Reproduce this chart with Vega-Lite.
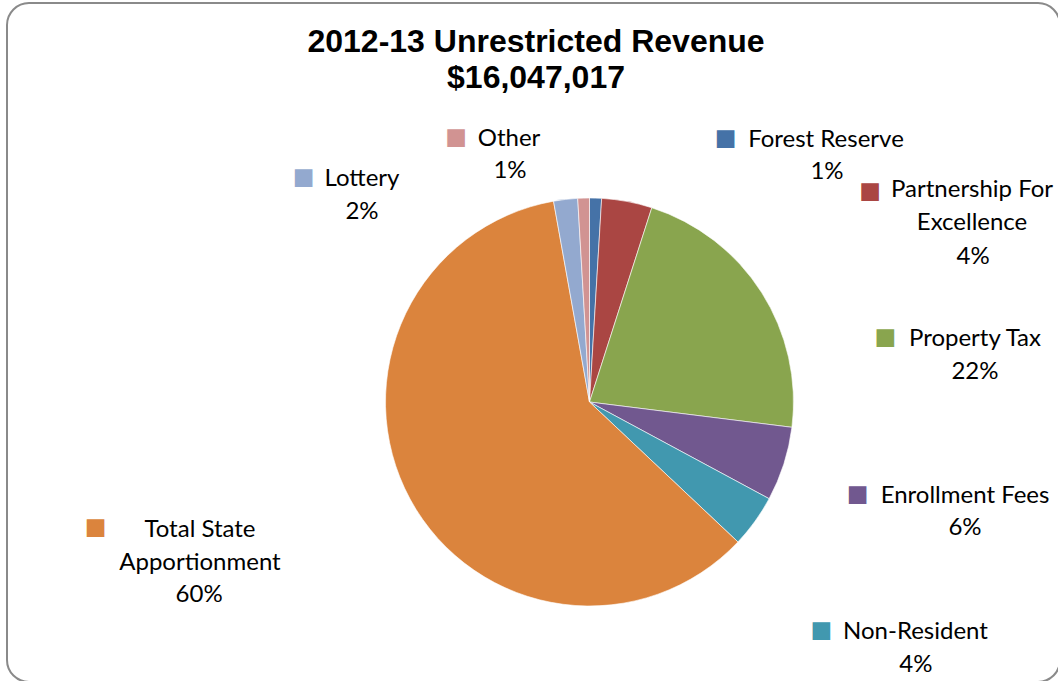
{
  "$schema": "https://vega.github.io/schema/vega-lite/v6.json",
  "width": 1053,
  "height": 679,
  "autosize": {"type": "none"},
  "padding": {"left": 7, "top": 3, "right": 0, "bottom": 0},
  "background": "white",
  "view": {"stroke": "#8a8a8a", "strokeWidth": 2, "cornerRadius": 22},
  "config": {"style": {"view": {"stroke": "#8a8a8a", "strokeWidth": 2, "cornerRadius": 22}}},
  "title": {
    "text": ["2012-13 Unrestricted Revenue", "$16,047,017"],
    "font": "Liberation Sans",
    "fontSize": 32,
    "fontWeight": "bold",
    "color": "#000000",
    "lineHeight": 36,
    "anchor": "middle",
    "frame": "group",
    "baseline": "alphabetic",
    "offset": -50,
    "dy": 67,
    "dx": 2.5
  },
  "data": {
    "values": [
      {"slice": 1, "category": "Forest Reserve", "share": 0.0095},
      {"slice": 2, "category": "Partnership For Excellence", "share": 0.0399},
      {"slice": 3, "category": "Property Tax", "share": 0.2204},
      {"slice": 4, "category": "Enrollment Fees", "share": 0.0588},
      {"slice": 5, "category": "Non-Resident", "share": 0.0417},
      {"slice": 6, "category": "Total State Apportionment", "share": 0.6015},
      {"slice": 7, "category": "Lottery", "share": 0.0190},
      {"slice": 8, "category": "Other", "share": 0.0092}
    ]
  },
  "encoding": {
    "theta": {"field": "share", "type": "quantitative", "stack": true},
    "order": {"field": "slice", "type": "quantitative"},
    "color": {"field": "category", "type": "nominal", "legend": null,
      "scale": {"domain": ["Forest Reserve", "Partnership For Excellence", "Property Tax", "Enrollment Fees", "Non-Resident", "Total State Apportionment", "Lottery", "Other"],
                "range": ["#4572A7", "#AA4643", "#89A54E", "#71588F", "#4198AF", "#DB843D", "#93A9CF", "#D19392"]}}
  },
  "layer": [
    {
      "mark": {"type": "arc", "x": 582.5, "y": 399, "radius": 204, "stroke": "#ffffff", "strokeWidth": 0.6}
    },
    {
      "mark": {"type": "text", "x": 582.5, "y": 399, "radius": 204, "dx": -74.6, "dy": -52.1, "font": "Lato", "fontSize": 24, "fill": "#000000", "align": "center", "baseline": "alphabetic"},
      "encoding": {"text": {"condition": {"test": "datum.category === 'Other'", "field": "category"}, "value": ""}, "color": null}
    },
    {
      "mark": {"type": "text", "x": 582.5, "y": 399, "radius": 204, "dx": -73.6, "dy": -19.6, "font": "Lato", "fontSize": 24, "fill": "#000000", "align": "center", "baseline": "alphabetic"},
      "encoding": {"text": {"condition": {"test": "datum.category === 'Other'", "field": "share", "type": "quantitative", "format": ".0%"}, "value": ""}, "color": null}
    },
    {
      "mark": {"type": "text", "x": 582.5, "y": 399, "radius": 204, "dx": -203.6, "dy": -13.4, "font": "Lato", "fontSize": 24, "fill": "#000000", "align": "center", "baseline": "alphabetic"},
      "encoding": {"text": {"condition": {"test": "datum.category === 'Lottery'", "field": "category"}, "value": ""}, "color": null}
    },
    {
      "mark": {"type": "text", "x": 582.5, "y": 399, "radius": 204, "dx": -203.6, "dy": 19.6, "font": "Lato", "fontSize": 24, "fill": "#000000", "align": "center", "baseline": "alphabetic"},
      "encoding": {"text": {"condition": {"test": "datum.category === 'Lottery'", "field": "share", "type": "quantitative", "format": ".0%"}, "value": ""}, "color": null}
    },
    {
      "mark": {"type": "text", "x": 582.5, "y": 399, "radius": 204, "dx": 230.4, "dy": -51.1, "font": "Lato", "fontSize": 24, "fill": "#000000", "align": "center", "baseline": "alphabetic"},
      "encoding": {"text": {"condition": {"test": "datum.category === 'Forest Reserve'", "field": "category"}, "value": ""}, "color": null}
    },
    {
      "mark": {"type": "text", "x": 582.5, "y": 399, "radius": 204, "dx": 231.4, "dy": -18.6, "font": "Lato", "fontSize": 24, "fill": "#000000", "align": "center", "baseline": "alphabetic"},
      "encoding": {"text": {"condition": {"test": "datum.category === 'Forest Reserve'", "field": "share", "type": "quantitative", "format": ".0%"}, "value": ""}, "color": null}
    },
    {
      "mark": {"type": "text", "x": 582.5, "y": 399, "radius": 204, "dx": 345, "dy": -4.5, "font": "Lato", "fontSize": 24, "lineHeight": 33.5, "fill": "#000000", "align": "center", "baseline": "alphabetic"},
      "encoding": {"text": {"condition": {"test": "datum.category === 'Partnership For Excellence'", "value": ["Partnership For", "Excellence"]}, "value": ""}, "color": null}
    },
    {
      "mark": {"type": "text", "x": 582.5, "y": 399, "radius": 204, "dx": 346, "dy": 62.5, "font": "Lato", "fontSize": 24, "fill": "#000000", "align": "center", "baseline": "alphabetic"},
      "encoding": {"text": {"condition": {"test": "datum.category === 'Partnership For Excellence'", "field": "share", "type": "quantitative", "format": ".0%"}, "value": ""}, "color": null}
    },
    {
      "mark": {"type": "text", "x": 582.5, "y": 399, "radius": 204, "dx": 213.5, "dy": 53.7, "font": "Lato", "fontSize": 24, "fill": "#000000", "align": "center", "baseline": "alphabetic"},
      "encoding": {"text": {"condition": {"test": "datum.category === 'Property Tax'", "field": "category"}, "value": ""}, "color": null}
    },
    {
      "mark": {"type": "text", "x": 582.5, "y": 399, "radius": 204, "dx": 213.5, "dy": 86.7, "font": "Lato", "fontSize": 24, "fill": "#000000", "align": "center", "baseline": "alphabetic"},
      "encoding": {"text": {"condition": {"test": "datum.category === 'Property Tax'", "field": "share", "type": "quantitative", "format": ".0%"}, "value": ""}, "color": null}
    },
    {
      "mark": {"type": "text", "x": 582.5, "y": 399, "radius": 204, "dx": 181.2, "dy": 38.9, "font": "Lato", "fontSize": 24, "fill": "#000000", "align": "center", "baseline": "alphabetic"},
      "encoding": {"text": {"condition": {"test": "datum.category === 'Enrollment Fees'", "field": "category"}, "value": ""}, "color": null}
    },
    {
      "mark": {"type": "text", "x": 582.5, "y": 399, "radius": 204, "dx": 181.2, "dy": 71.2, "font": "Lato", "fontSize": 24, "fill": "#000000", "align": "center", "baseline": "alphabetic"},
      "encoding": {"text": {"condition": {"test": "datum.category === 'Enrollment Fees'", "field": "share", "type": "quantitative", "format": ".0%"}, "value": ""}, "color": null}
    },
    {
      "mark": {"type": "text", "x": 582.5, "y": 399, "radius": 204, "dx": 160.5, "dy": 117.7, "font": "Lato", "fontSize": 24, "fill": "#000000", "align": "center", "baseline": "alphabetic"},
      "encoding": {"text": {"condition": {"test": "datum.category === 'Non-Resident'", "field": "category"}, "value": ""}, "color": null}
    },
    {
      "mark": {"type": "text", "x": 582.5, "y": 399, "radius": 204, "dx": 161, "dy": 150.7, "font": "Lato", "fontSize": 24, "fill": "#000000", "align": "center", "baseline": "alphabetic"},
      "encoding": {"text": {"condition": {"test": "datum.category === 'Non-Resident'", "field": "share", "type": "quantitative", "format": ".0%"}, "value": ""}, "color": null}
    },
    {
      "mark": {"type": "text", "x": 582.5, "y": 399, "radius": 204, "dx": -210.1, "dy": 37.9, "font": "Lato", "fontSize": 24, "lineHeight": 33, "fill": "#000000", "align": "center", "baseline": "alphabetic"},
      "encoding": {"text": {"condition": {"test": "datum.category === 'Total State Apportionment'", "value": ["Total State", "Apportionment"]}, "value": ""}, "color": null}
    },
    {
      "mark": {"type": "text", "x": 582.5, "y": 399, "radius": 204, "dx": -211, "dy": 102.9, "font": "Lato", "fontSize": 24, "fill": "#000000", "align": "center", "baseline": "alphabetic"},
      "encoding": {"text": {"condition": {"test": "datum.category === 'Total State Apportionment'", "field": "share", "type": "quantitative", "format": ".0%"}, "value": ""}, "color": null}
    },
    {
      "mark": {"type": "text", "x": 582.5, "y": 399, "radius": 204, "dx": -127.6, "dy": -61.1, "font": "DejaVu Sans", "fontSize": 23, "align": "center", "baseline": "middle"},
      "encoding": {"text": {"condition": {"test": "datum.category === 'Other'", "value": "■"}, "value": ""}}
    },
    {
      "mark": {"type": "text", "x": 582.5, "y": 399, "radius": 204, "dx": -262.1, "dy": -22.4, "font": "DejaVu Sans", "fontSize": 23, "align": "center", "baseline": "middle"},
      "encoding": {"text": {"condition": {"test": "datum.category === 'Lottery'", "value": "■"}, "value": ""}}
    },
    {
      "mark": {"type": "text", "x": 582.5, "y": 399, "radius": 204, "dx": 129.9, "dy": -60.1, "font": "DejaVu Sans", "fontSize": 23, "align": "center", "baseline": "middle"},
      "encoding": {"text": {"condition": {"test": "datum.category === 'Forest Reserve'", "value": "■"}, "value": ""}}
    },
    {
      "mark": {"type": "text", "x": 582.5, "y": 399, "radius": 204, "dx": 243, "dy": -10.5, "font": "DejaVu Sans", "fontSize": 23, "align": "center", "baseline": "middle"},
      "encoding": {"text": {"condition": {"test": "datum.category === 'Partnership For Excellence'", "value": "■"}, "value": ""}}
    },
    {
      "mark": {"type": "text", "x": 582.5, "y": 399, "radius": 204, "dx": 124, "dy": 44.7, "font": "DejaVu Sans", "fontSize": 23, "align": "center", "baseline": "middle"},
      "encoding": {"text": {"condition": {"test": "datum.category === 'Property Tax'", "value": "■"}, "value": ""}}
    },
    {
      "mark": {"type": "text", "x": 582.5, "y": 399, "radius": 204, "dx": 73.7, "dy": 29.9, "font": "DejaVu Sans", "fontSize": 23, "align": "center", "baseline": "middle"},
      "encoding": {"text": {"condition": {"test": "datum.category === 'Enrollment Fees'", "value": "■"}, "value": ""}}
    },
    {
      "mark": {"type": "text", "x": 582.5, "y": 399, "radius": 204, "dx": 66.5, "dy": 108.7, "font": "DejaVu Sans", "fontSize": 23, "align": "center", "baseline": "middle"},
      "encoding": {"text": {"condition": {"test": "datum.category === 'Non-Resident'", "value": "■"}, "value": ""}}
    },
    {
      "mark": {"type": "text", "x": 582.5, "y": 399, "radius": 204, "dx": -314.6, "dy": 28.4, "font": "DejaVu Sans", "fontSize": 23, "align": "center", "baseline": "middle"},
      "encoding": {"text": {"condition": {"test": "datum.category === 'Total State Apportionment'", "value": "■"}, "value": ""}}
    }
  ]
}
